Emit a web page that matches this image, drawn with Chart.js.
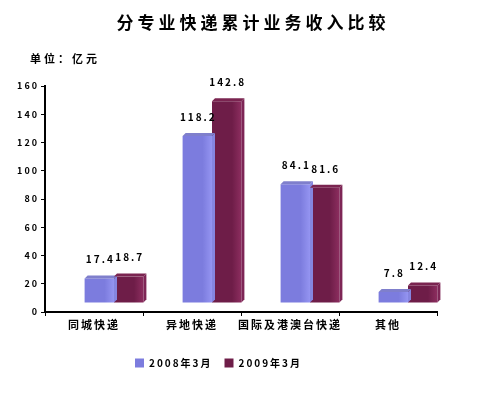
<!DOCTYPE html>
<html>
<head>
<meta charset="utf-8">
<script src="https://cdn.jsdelivr.net/npm/chart.js@4"></script>
<style>
  html, body { margin: 0; padding: 0; background: #fff; }
  #wrap { width: 480px; height: 399px; position: relative; }
</style>
</head>
<body>
<div id="wrap"><canvas id="chart" width="480" height="399"></canvas></div>
<script>
// --- data ---
const titleText = '分专业快递累计业务收入比较';
const unitText = '单位：亿元';
const categories = ['同城快递', '异地快递', '国际及港澳台快递', '其他'];
const seriesNames = ['2008年3月', '2009年3月'];
const values2008 = [17.4, 118.2, 84.1, 7.8];
const values2009 = [18.7, 142.8, 81.6, 12.4];
const yTicks = [0, 20, 40, 60, 80, 100, 120, 140, 160];

const FONT = '"Noto Sans CJK SC", "Noto Sans", sans-serif';
// 3D look: bars sit a bit up and right of the axis wall
const SHIFT_X = 20, SHIFT_Y = -9;

const palette = [
    { dark: '#7c7cde', light: '#a6a6ff', cap: '#7f7fcc', side: '#8585e0' },
    { dark: '#6e1d48', light: '#a33a70', cap: '#7a2450', side: '#7e2656' }
];

function barGradient(context, i) {
    const chart = context.chart;
    const xs = chart.scales.x;
    if (!xs || !chart.chartArea) return palette[i].light;
    const cw = xs.width / categories.length;
    const bw = cw * 0.6 / 2;
    const c = xs.getPixelForValue(context.dataIndex) + SHIFT_X;
    const left = i === 0 ? c - bw : c;
    const g = chart.ctx.createLinearGradient(left, 0, left + bw, 0);
    g.addColorStop(0, palette[i].dark);
    g.addColorStop(0.55, palette[i].light);
    g.addColorStop(1, palette[i].dark);
    return g;
}

// draws title, unit, bar tops and value labels
const decorPlugin = {
    id: 'decor',
    beforeLayout(chart) {
        chart.ctx.letterSpacing = '2px';
    },
    beforeDatasetsDraw(chart) {
        chart.ctx.save();
        chart.ctx.translate(SHIFT_X, SHIFT_Y);
    },
    afterDatasetsDraw(chart) {
        const ctx = chart.ctx;
        chart.data.datasets.forEach((ds, i) => {
            const meta = chart.getDatasetMeta(i);
            meta.data.forEach((bar, j) => {
                const w = bar.width;
                const l = bar.x - w / 2, r = bar.x + w / 2;
                // right side depth
                ctx.fillStyle = palette[i].side;
                ctx.beginPath();
                ctx.moveTo(r, bar.y);
                ctx.lineTo(r + 3, bar.y - 3);
                ctx.lineTo(r + 3, bar.base - 3);
                ctx.lineTo(r, bar.base);
                ctx.closePath();
                ctx.fill();
                // top cap
                ctx.fillStyle = palette[i].cap;
                ctx.beginPath();
                ctx.moveTo(l, bar.y);
                ctx.lineTo(l + 3, bar.y - 3);
                ctx.lineTo(r + 3, bar.y - 3);
                ctx.lineTo(r, bar.y);
                ctx.closePath();
                ctx.fill();
                // value label
                ctx.fillStyle = '#000';
                ctx.font = 'bold 10px ' + FONT;
                ctx.letterSpacing = '2px';
                ctx.textAlign = 'center';
                ctx.textBaseline = 'middle';
                ctx.fillText(ds.data[j].toFixed(1), bar.x + 1, bar.y - 19);
            });
        });
        ctx.restore();
    },
    afterDraw(chart) {
        const ctx = chart.ctx;
        ctx.save();
        ctx.fillStyle = '#000';
        ctx.textBaseline = 'middle';
        ctx.font = 'bold 17px ' + FONT;
        ctx.letterSpacing = '4px';
        ctx.textAlign = 'center';
        ctx.fillText(titleText, 253, 23);
        ctx.font = 'bold 11px ' + FONT;
        ctx.letterSpacing = '3px';
        ctx.textAlign = 'left';
        ctx.fillText(unitText, 30, 59);
        ctx.restore();
    }
};

const ctx = document.getElementById('chart').getContext('2d');
new Chart(ctx, {
    type: 'bar',
    data: {
        labels: categories,
        datasets: [
            { label: seriesNames[0], data: values2008, backgroundColor: c => barGradient(c, 0), borderWidth: 0 },
            { label: seriesNames[1], data: values2009, backgroundColor: c => barGradient(c, 1), borderWidth: 0 }
        ]
    },
    options: {
        responsive: false,
        animation: false,
        devicePixelRatio: 1,
        layout: { padding: { top: 86, right: 43, left: 0, bottom: 21 } },
        datasets: { bar: { categoryPercentage: 0.6, barPercentage: 1.0 } },
        scales: {
            x: {
                grid: { display: true, drawOnChartArea: false, offset: true, color: '#000', tickLength: 4 },
                border: { color: '#000', width: 2 },
                ticks: { color: '#000', font: { family: FONT, size: 11, weight: 'bold' }, maxRotation: 0, autoSkip: false, padding: 2 },
                afterFit(scale) { scale.height = 34; }
            },
            y: {
                min: 0, max: 160,
                afterBuildTicks(scale) { scale.ticks = yTicks.map(v => ({ value: v })); },
                grid: { display: true, drawOnChartArea: false, color: '#000', tickLength: 4 },
                border: { color: '#000', width: 2 },
                ticks: { color: '#000', font: { family: FONT, size: 9, weight: 'bold' }, padding: 2 },
                afterFit(scale) { scale.width = 45; }
            }
        },
        plugins: {
            legend: {
                position: 'bottom',
                labels: {
                    color: '#000',
                    boxWidth: 9, boxHeight: 9,
                    padding: 12,
                    font: { family: FONT, size: 10, weight: 'bold' }
                }
            },
            tooltip: { enabled: false }
        }
    },
    plugins: [decorPlugin]
});
</script>
</body>
</html>
